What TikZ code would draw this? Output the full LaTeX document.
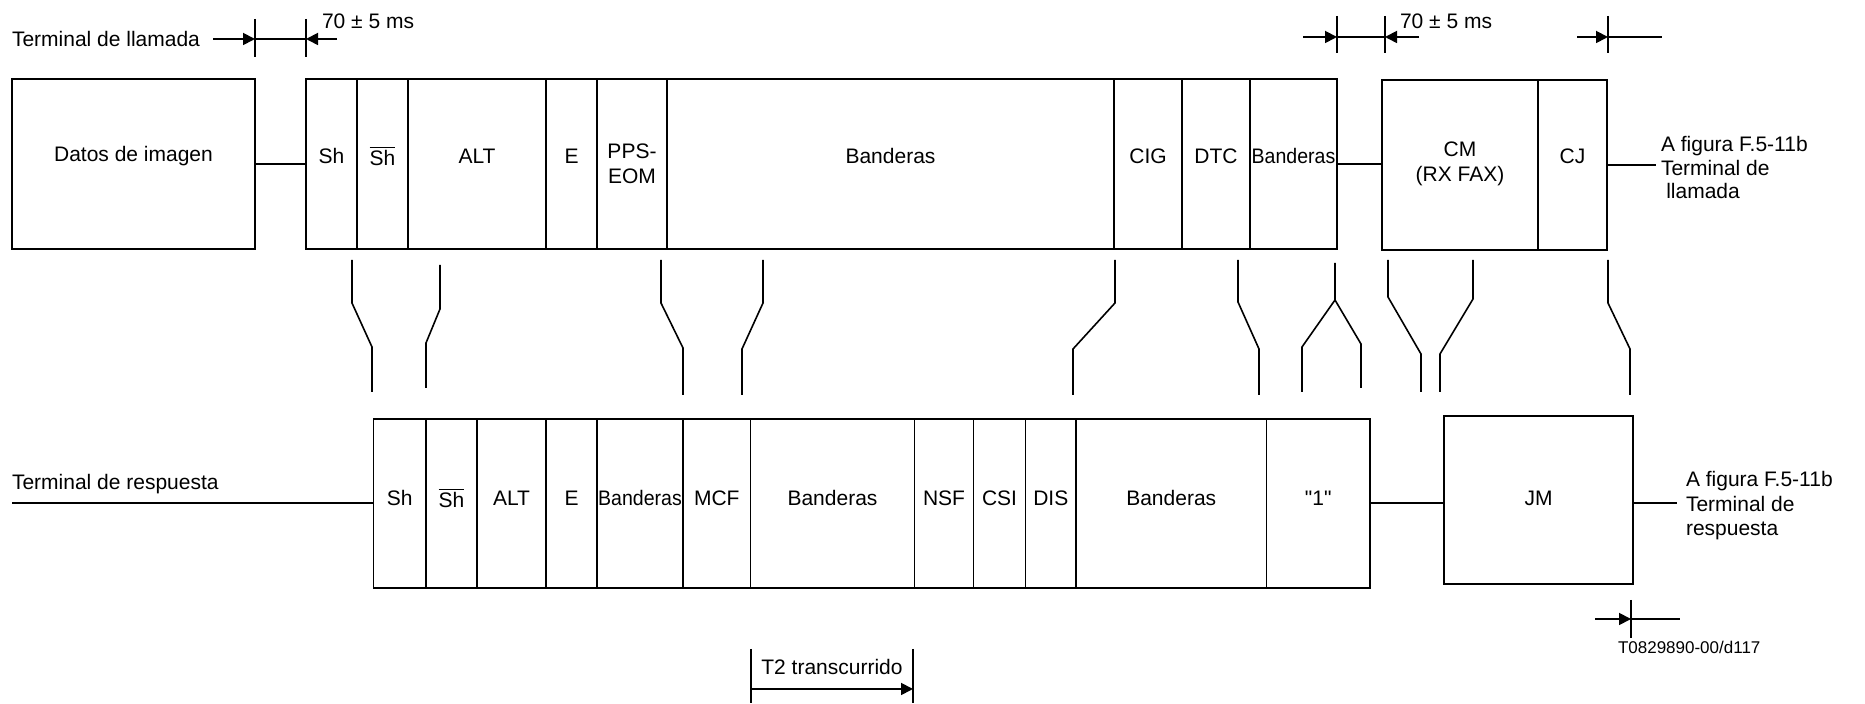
\documentclass[tikz,border=0pt]{standalone}
\usepackage{fontspec}
\setmainfont{Liberation Sans}[Ligatures=TeXOff]
\usepackage{graphicx}
\usetikzlibrary{arrows.meta}
\newcommand\narrowtxt[1]{\scalebox{0.93}[1]{#1}}
% name, x1, x2, y1, y2, label y, text
\newcommand\mkfield[7]{%
  \node[box, minimum width={(#3-#2)*0.5pt}, minimum height={(#5-#4)*0.5pt}] (#1) at ({(#2+#3)/2},{(#4+#5)/2}) {};
  \node[lbl] (#1-t) at ({(#2+#3)/2},#6) {#7};}
\begin{document}
\begin{tikzpicture}[x=0.5pt,y=-0.5pt,
  every node/.style={inner sep=0pt, outer sep=0pt},
  box/.style={draw, line width=0.6pt},
  lbl/.style={font=\fontsize{10.5}{12.5}\selectfont, align=center},
  link/.style={line width=1pt},
  ind/.style={line width=0.8pt},
  dim/.style={line width=0.9pt},
  tip/.style={-{Triangle[length=6pt,width=6pt]}}]
\useasboundingbox (0,0) rectangle (1865,704);

% ---------- top row ----------
\mkfield{datos}{12}{255}{79}{249}{156}{Datos de imagen}
\mkfield{tsh}{306}{357}{79}{249}{156}{Sh}
\mkfield{tshb}{357}{408}{79}{249}{156}{$\overline{\mbox{Sh}}$}
\mkfield{talt}{408}{546}{79}{249}{156}{ALT}
\mkfield{te}{546}{597}{79}{249}{156}{E}
\mkfield{tpps}{597}{667}{79}{249}{164}{PPS-\\EOM}
\mkfield{tban1}{667}{1114}{79}{249}{156}{Banderas}
\mkfield{tcig}{1114}{1182}{79}{249}{156}{CIG}
\mkfield{tdtc}{1182}{1250}{79}{249}{156}{DTC}
\mkfield{tban2}{1250}{1337}{79}{249}{156}{\narrowtxt{Banderas}}
\mkfield{tcm}{1382}{1538}{80}{250}{164}{CM\\(RX FAX)}
\mkfield{tcj}{1538}{1607}{80}{250}{156}{CJ}

% ---------- bottom row ----------
\mkfield{bsh}{373.5}{426}{419}{588}{498}{Sh}
\mkfield{bshb}{426}{477}{419}{588}{498}{$\overline{\mbox{Sh}}$}
\mkfield{balt}{477}{546}{419}{588}{498}{ALT}
\mkfield{be}{546}{597}{419}{588}{498}{E}
\mkfield{bban1}{597}{683}{419}{588}{498}{\narrowtxt{Banderas}}
\mkfield{bmcf}{683}{750.5}{419}{588}{498}{MCF}
\mkfield{bban2}{750.5}{914.5}{419}{588}{498}{Banderas}
\mkfield{bnsf}{914.5}{973.5}{419}{588}{498}{NSF}
\mkfield{bcsi}{973.5}{1025.5}{419}{588}{498}{CSI}
\mkfield{bdis}{1025.5}{1076}{419}{588}{498}{DIS}
\mkfield{bban3}{1076}{1266.5}{419}{588}{498}{Banderas}
\mkfield{bone}{1266.5}{1370}{419}{588}{498}{"1"}
\mkfield{bjm}{1444}{1633}{416}{584}{498}{JM}

% ---------- connectors ----------
\draw[link] (datos.east) -- (tsh.west);
\draw[link] (tban2.east) -- (tban2.east -| tcm.west);
\coordinate (toR) at (1656,165);
\draw[link] (tcj.east) -- (toR);
\coordinate (trl) at (12,503.5);
\draw[link] (trl) -- (bsh.west);
\draw[link] (bone.east) -- (bone.east -| bjm.west);
\coordinate (boR) at (1677,503.5);
\draw[link] (bjm.east |- bone.east) -- (boR);

% ---------- side texts ----------
\node[lbl, anchor=west] (tcall) at (12,39) {Terminal de llamada};
\node[lbl, anchor=west] (tresp) at (12,484) {Terminal de respuesta};
\node[lbl, align=left, anchor=west, font=\fontsize{10.5}{11.75}\selectfont] (tref) at (1661,168)
  {A figura F.5-11b\\Terminal de\\\hspace*{0.25em}llamada};
\node[lbl, align=left, anchor=west, font=\fontsize{10.5}{12.25}\selectfont] (bref) at (1686,506)
  {A figura F.5-11b\\Terminal de\\respuesta};

% ---------- timing marks top left ----------
\coordinate (L0) at (213,39); \coordinate (L1) at (255,39);
\coordinate (L2) at (306,39); \coordinate (L3) at (337,39);
\draw[dim] (255,19) -- (255,57);
\draw[dim] (306,19) -- (306,57);
\draw[dim,tip] (L0) -- (L1);
\draw[dim] (L1) -- (L2);
\draw[dim,tip] (L3) -- (L2);
\node[lbl, anchor=west] (d1) at (322,21) {70 ± 5 ms};

% ---------- timing marks top right ----------
\coordinate (R0) at (1303,37); \coordinate (R1) at (1337,37);
\coordinate (R2) at (1385,37); \coordinate (R3) at (1419,37);
\draw[dim] (1337,16) -- (1337,53);
\draw[dim] (1385,16) -- (1385,53);
\draw[dim,tip] (R0) -- (R1);
\draw[dim] (R1) -- (R2);
\draw[dim,tip] (R3) -- (R2);
\node[lbl, anchor=west] (d2) at (1400,21) {70 ± 5 ms};
\coordinate (R4) at (1577,37); \coordinate (R5) at (1608,37); \coordinate (R6) at (1662,37);
\draw[dim] (1608,16) -- (1608,53);
\draw[dim,tip] (R4) -- (R5);
\draw[dim] (R5) -- (R6);

% ---------- bottom right mark ----------
\coordinate (B0) at (1595,619); \coordinate (B1) at (1631,619); \coordinate (B2) at (1680,619);
\draw[dim] (1631,600) -- (1631,638);
\draw[dim,tip] (B0) -- (B1);
\draw[dim] (B1) -- (B2);

% ---------- indicator lines ----------
\draw[ind] (352,260) -- (352,303) -- (372,347) -- (372,392);
\draw[ind] (440,265) -- (440,309) -- (426,343) -- (426,388);
\draw[ind] (661,260) -- (661,303) -- (683,348) -- (683,395);
\draw[ind] (763,260) -- (763,303) -- (742,349) -- (742,395);
\draw[ind] (1115,260) -- (1115,303) -- (1073,349) -- (1073,395);
\draw[ind] (1238,260) -- (1238,302) -- (1259,349) -- (1259,395);
\draw[ind] (1335,263) -- (1335,300) -- (1302,347) -- (1302,392);
\draw[ind] (1335,300) -- (1361,344) -- (1361,388);
\draw[ind] (1388,260) -- (1388,297) -- (1421,354) -- (1421,392);
\draw[ind] (1473,260) -- (1473,299) -- (1440,354) -- (1440,392);
\draw[ind] (1608,260) -- (1608,303) -- (1630,349) -- (1630,395);

% ---------- T2 ----------
\coordinate (T0) at (751,689); \coordinate (T1) at (913,689);
\draw[dim] (751,649) -- (751,703);
\draw[dim] (913,649) -- (913,703);
\draw[dim,tip] (T0) -- (T1);
\node[lbl] (t2) at (832,667) {T2 transcurrido};

\node[anchor=west, font=\fontsize{8.5}{10}\selectfont] (ref) at (1618,647) {T0829890-00/d117};
\end{tikzpicture}
\end{document}
